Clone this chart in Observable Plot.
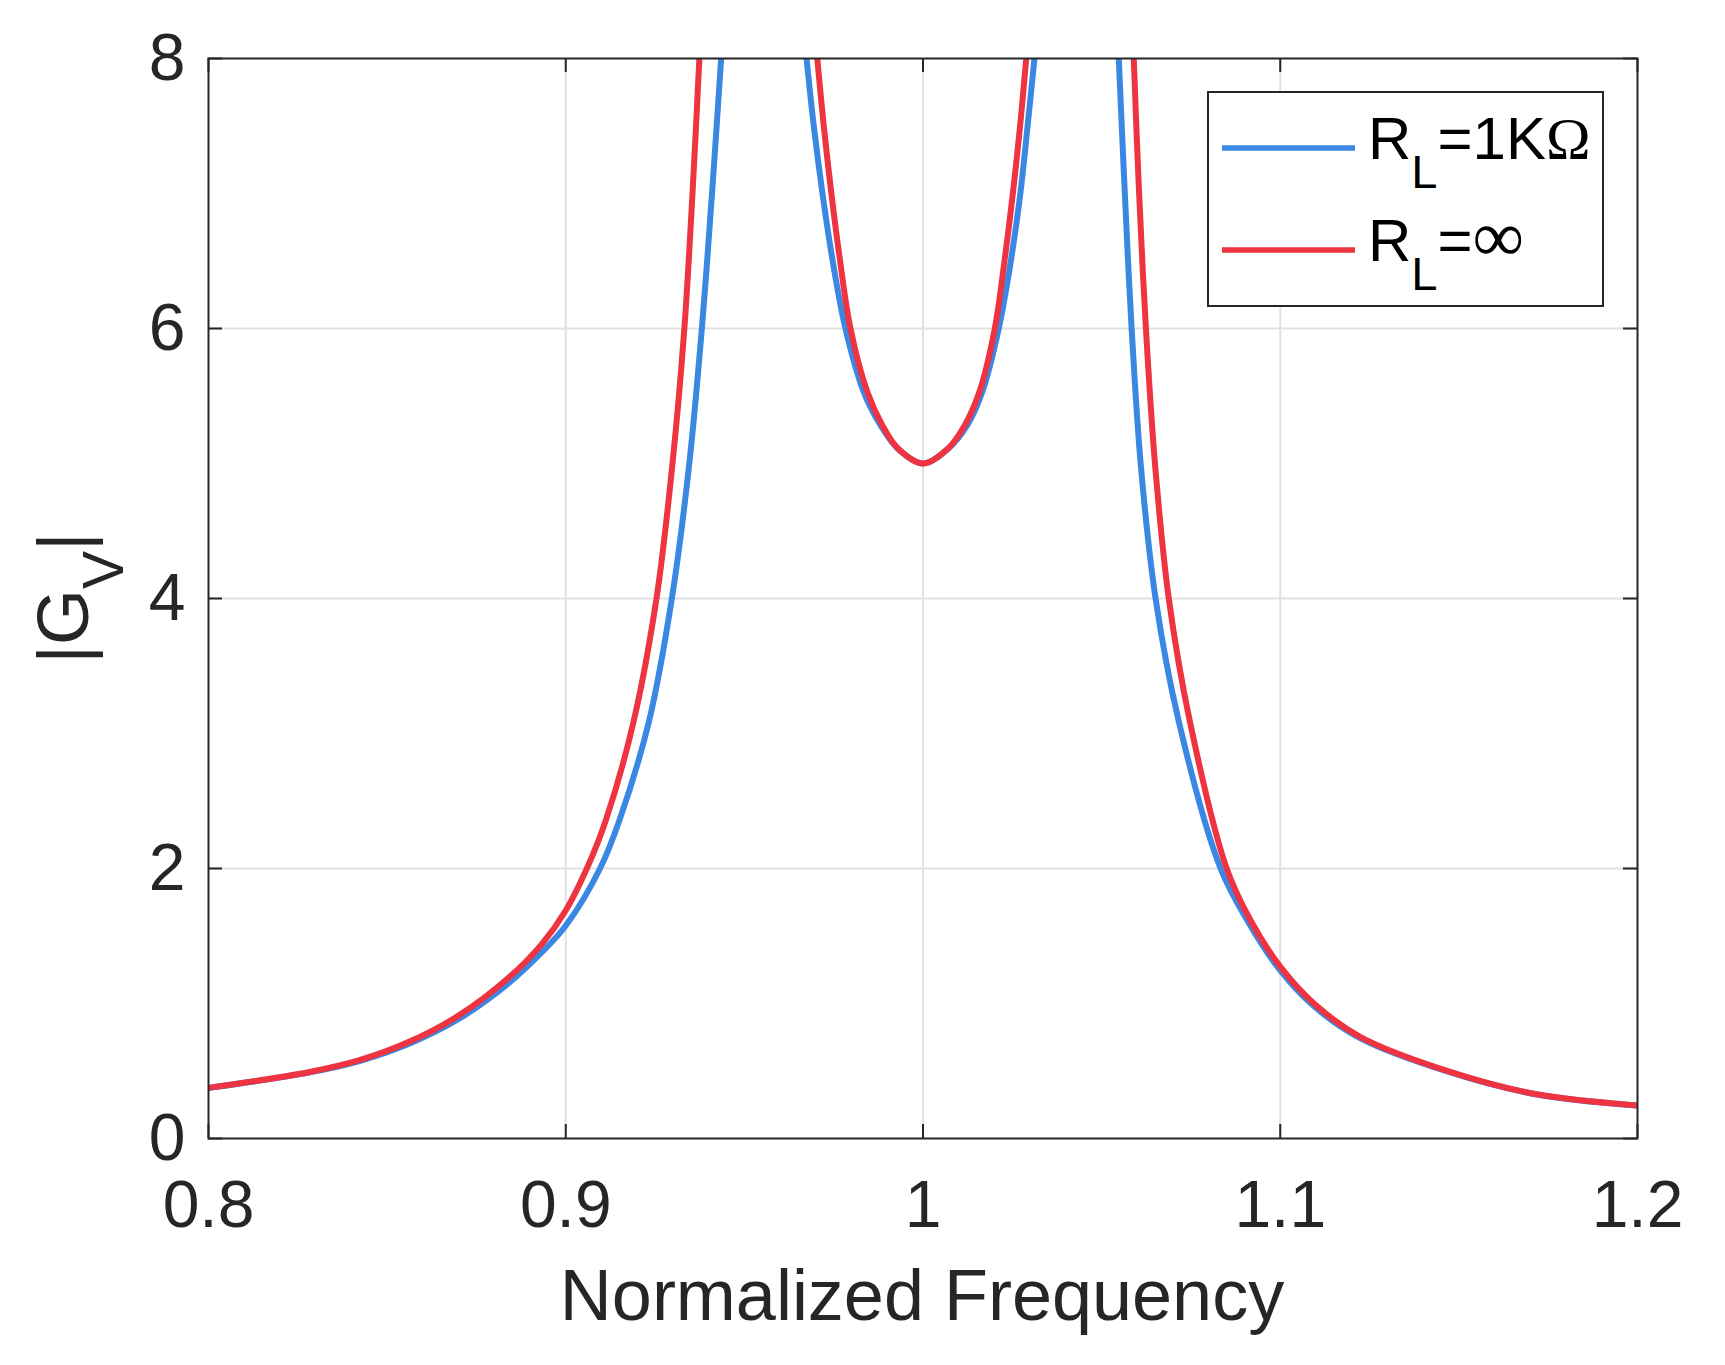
<!DOCTYPE html>
<html>
<head>
<meta charset="utf-8">
<script src="https://cdn.jsdelivr.net/npm/d3@7"></script>
<script src="https://cdn.jsdelivr.net/npm/@observablehq/plot@0.6"></script>
<style>
  html, body { margin: 0; padding: 0; background: #fff; }
  #plot svg { display: block; }
</style>
</head>
<body>
<div id="plot"></div>
<script>
// axis setup
const xDomain = [0.8, 1.2];
const yDomain = [0, 8];
const xTicks = [0.8, 0.9, 1, 1.1, 1.2];
const yTicks = [0, 2, 4, 6, 8];
const gridXTicks = [0.9, 1, 1.1];
const gridYTicks = [2, 4, 6];

// R_L = 1 kOhm (blue), three branches (curve leaves the axes at 8)
const blueLeftF = [0.800, 0.828, 0.842, 0.856, 0.870, 0.884, 0.8933, 0.9001, 0.9096, 0.9150, 0.9233, 0.9297, 0.9345, 0.9381, 0.9411, 0.9435];
const blueLeftG = [0.375, 0.488, 0.572, 0.700, 0.885, 1.150, 1.380, 1.580, 2.000, 2.356, 3.090, 4.000, 4.980, 6.000, 7.060, 8.000];
const blueMidF = [0.9674, 0.9694, 0.9718, 0.9746, 0.9783, 0.9834, 0.9881, 0.9929, 1.0000, 1.0071, 1.0124, 1.0166, 1.0212, 1.0247, 1.0273, 1.0293, 1.0312];
const blueMidG = [8.000, 7.506, 7.012, 6.519, 6.000, 5.531, 5.284, 5.111, 5.000, 5.111, 5.284, 5.531, 6.000, 6.519, 7.012, 7.506, 8.000];
const blueRightF = [1.0548, 1.0564, 1.0584, 1.0610, 1.0651, 1.0716, 1.0833, 1.0908, 1.0993, 1.1090, 1.1222, 1.1463, 1.1710, 1.2000];
const blueRightG = [8.000, 7.055, 6.000, 4.978, 4.000, 3.089, 2.000, 1.615, 1.269, 0.990, 0.745, 0.500, 0.330, 0.244];

// R_L = infinity (red)
const redLeftF = [0.800, 0.828, 0.842, 0.856, 0.870, 0.884, 0.8933, 0.9000, 0.9059, 0.9112, 0.9190, 0.9254, 0.9298, 0.9332, 0.9356, 0.9374];
const redLeftG = [0.375, 0.491, 0.578, 0.714, 0.910, 1.190, 1.440, 1.689, 2.000, 2.356, 3.090, 4.000, 4.980, 6.000, 7.060, 8.000];
const redMidF = [0.9704, 0.9722, 0.9743, 0.9767, 0.9797, 0.9844, 0.9886, 0.9930, 1.0000, 1.0070, 1.0117, 1.0158, 1.0201, 1.0229, 1.0252, 1.0272, 1.0289];
const redMidG = [8.000, 7.506, 7.012, 6.519, 6.000, 5.531, 5.284, 5.111, 5.000, 5.111, 5.284, 5.531, 6.000, 6.519, 7.012, 7.506, 8.000];
const redRightF = [1.0590, 1.0604, 1.0624, 1.0650, 1.0688, 1.0747, 1.0850, 1.0917, 1.1001, 1.1095, 1.1225, 1.1463, 1.1710, 1.2000];
const redRightG = [8.000, 7.055, 6.000, 4.978, 4.000, 3.089, 2.000, 1.615, 1.269, 0.998, 0.751, 0.504, 0.331, 0.244];

const blueColor = "#3a88e4";
const redColor = "#ee3341";
const ink = "#262626";
const font = "'Liberation Sans', Arial, Helvetica, sans-serif";

function branch(name, fs, gs) {
  return fs.map((f, i) => ({ f, g: gs[i], branch: name }));
}

const blueRows = [
  ...branch("bL", blueLeftF, blueLeftG),
  ...branch("bM", blueMidF, blueMidG),
  ...branch("bR", blueRightF, blueRightG)
];
const redRows = [
  ...branch("rL", redLeftF, redLeftG),
  ...branch("rM", redMidF, redMidG),
  ...branch("rR", redRightF, redRightG)
];

const plot = Plot.plot({
  width: 1725,
  height: 1365,
  marginLeft: 208,
  marginRight: 88,
  marginTop: 58,
  marginBottom: 227,
  style: { background: "#fff", color: ink, fontFamily: font },
  x: { domain: xDomain, label: null },
  y: { domain: yDomain, label: null },
  marks: [
    Plot.gridX(gridXTicks, { stroke: "#e1e1e1", strokeOpacity: 1, strokeWidth: 2 }),
    Plot.gridY(gridYTicks, { stroke: "#e1e1e1", strokeOpacity: 1, strokeWidth: 2 }),
    Plot.line(blueRows, { x: "f", y: "g", z: "branch", stroke: blueColor, strokeWidth: 6, curve: "catmull-rom", clip: true }),
    Plot.line(redRows, { x: "f", y: "g", z: "branch", stroke: redColor, strokeWidth: 6, curve: "catmull-rom", clip: true }),
    // inward ticks on all four sides, like the original
    Plot.ruleX(xTicks, { x: d => d, y1: yDomain[0], y2: yDomain[0], insetTop: -14, stroke: ink, strokeWidth: 2 }),
    Plot.ruleX(xTicks, { x: d => d, y1: yDomain[1], y2: yDomain[1], insetBottom: -14, stroke: ink, strokeWidth: 2 }),
    Plot.ruleY(yTicks, { y: d => d, x1: xDomain[0], x2: xDomain[0], insetRight: -14, stroke: ink, strokeWidth: 2 }),
    Plot.ruleY(yTicks, { y: d => d, x1: xDomain[1], x2: xDomain[1], insetLeft: -14, stroke: ink, strokeWidth: 2 }),
    Plot.frame({ stroke: ink, strokeWidth: 2 }),
    Plot.axisX(xTicks, { anchor: "bottom", tickSize: 0, tickPadding: 42, fontSize: 66, tickFormat: d => String(d), label: null }),
    Plot.axisY(yTicks, { anchor: "left", tickSize: 0, tickPadding: 23, fontSize: 66, tickFormat: d => String(d), label: null })
  ]
});

document.getElementById("plot").appendChild(plot);

// titles and legend, with TeX-like subscripts
const svg = d3.select(plot);

svg.append("text")
  .attr("x", 922).attr("y", 1320)
  .attr("text-anchor", "middle")
  .attr("font-family", font).attr("font-size", 72).attr("fill", ink)
  .text("Normalized Frequency");

const yt = svg.append("text")
  .attr("transform", "translate(88,598) rotate(-90)")
  .attr("text-anchor", "middle")
  .attr("font-family", font).attr("font-size", 72).attr("fill", ink);
yt.append("tspan").text("|G");
yt.append("tspan").attr("font-size", 57).attr("dy", 35).text("V");
yt.append("tspan").attr("dy", -35).text("|");

const lg = svg.append("g");
lg.append("rect")
  .attr("x", 1208).attr("y", 92).attr("width", 395).attr("height", 214)
  .attr("fill", "#fff").attr("stroke", ink).attr("stroke-width", 2);

const legendItems = [
  { color: blueColor, value: "=1K", sym: "\u03A9", y: 148 },
  { color: redColor, value: "=", sym: "\u221E", y: 250 }
];
legendItems.forEach(it => {
  lg.append("line")
    .attr("x1", 1222).attr("x2", 1355).attr("y1", it.y).attr("y2", it.y)
    .attr("stroke", it.color).attr("stroke-width", 5.5);
  const t = lg.append("text")
    .attr("x", 1368).attr("y", it.y + 11)
    .attr("text-anchor", "start")
    .attr("font-family", font).attr("font-size", 60).attr("fill", "#000");
  t.append("tspan").text("R");
  t.append("tspan").attr("font-size", 47).attr("dy", 29).text("L");
  t.append("tspan").attr("dy", -29).text(it.value);
  t.append("tspan")
    .attr("font-family", "'Liberation Serif', 'Times New Roman', serif")
    .attr("font-size", it.sym === "\u221E" ? 72 : 60)
    .text(it.sym);
});
</script>
</body>
</html>
